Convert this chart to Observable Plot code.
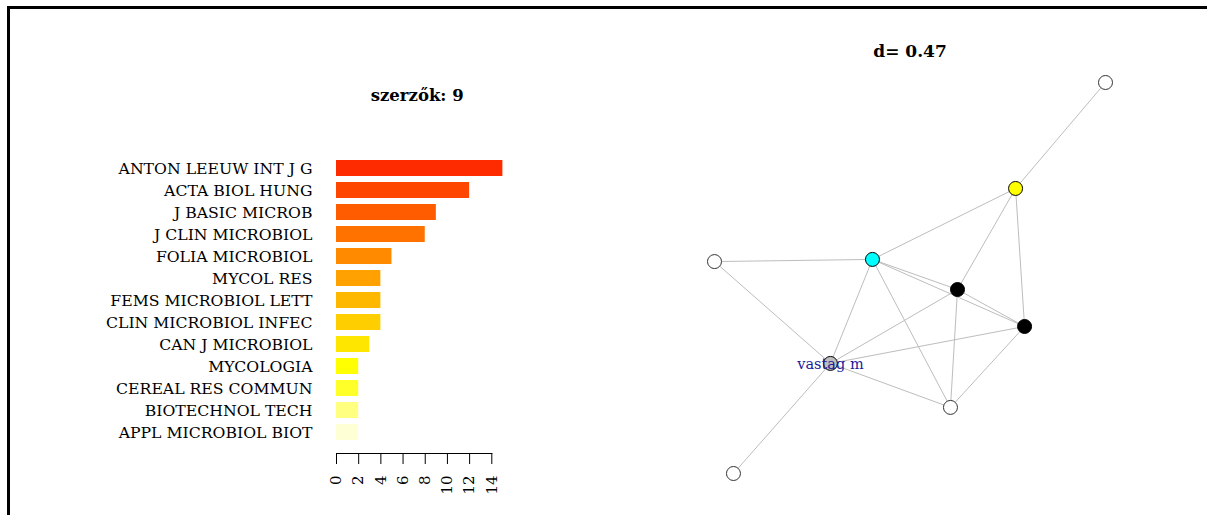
<!DOCTYPE html>
<html>
<head>
<meta charset="utf-8">
<script src="https://cdn.jsdelivr.net/npm/d3@7"></script>
<script src="https://cdn.jsdelivr.net/npm/@observablehq/plot@0.6"></script>
<style>
  html, body { margin: 0; padding: 0; background: #fff; }
  #wrap { position: relative; width: 1207px; height: 515px; overflow: hidden; background: #fff; }
  #bars { position: absolute; left: 0; top: 0; }
  #net { position: absolute; left: 600px; top: 0; }
  .bt { position: absolute; left: 7px; top: 6px; width: 1200px; height: 3px; background: #000; }
  .bl { position: absolute; left: 7px; top: 6px; width: 3px; height: 509px; background: #000; }
</style>
</head>
<body>
<div id="wrap">
  <div id="bars"></div>
  <div id="net"></div>
  <div class="bt"></div>
  <div class="bl"></div>
</div>
<script>
// ---- bar chart data ----
const journals = ["ANTON LEEUW INT J G","ACTA BIOL HUNG","J BASIC MICROB","J CLIN MICROBIOL","FOLIA MICROBIOL","MYCOL RES","FEMS MICROBIOL LETT","CLIN MICROBIOL INFEC","CAN J MICROBIOL","MYCOLOGIA","CEREAL RES COMMUN","BIOTECHNOL TECH","APPL MICROBIOL BIOT"];
const counts = [15, 12, 9, 8, 5, 4, 4, 4, 3, 2, 2, 2, 2];
const xTicks = [0, 2, 4, 6, 8, 10, 12, 14];
const barTitle = "szerzők: 9";

// ---- network data (layout coordinates) ----
const nodeX = [1.0, 0.540, -0.192, -1.0, 0.243, 0.586, -0.407, 0.207, -0.903];
const nodeY = [1.0, 0.458, 0.095, 0.084, -0.059, -0.248, -0.437, -0.662, -1.0];
const nodeLabel = ["", "", "", "", "", "", "vastag m", "", ""];
const edgeFrom = [0, 1, 1, 1, 3, 3, 2, 2, 2, 2, 4, 4, 4, 5, 5, 6, 6];
const edgeTo   = [1, 2, 4, 5, 2, 6, 6, 7, 4, 5, 5, 6, 7, 6, 7, 7, 8];
const netTitle = "d= 0.47";

// ---- styles ----
const barColors = ["#FF2B00","#FF4600","#FF5C00","#FF7200","#FF8A00","#FFA100","#FFB800","#FFCE00","#FFE600","#FFFF00","#FFFF2A","#FFFF80","#FFFFD5"];
const nodeFill = ["#FFFFFF","#FFFF00","#00FFFF","#FFFFFF","#000000","#000000","#BEBEBE","#FFFFFF","#FFFFFF"];
const serif = "'DejaVu Serif', serif";

const barData = journals.map((name, i) => ({name, value: counts[i]}));

const bars = Plot.plot({
  width: 600,
  height: 515,
  marginLeft: 336,
  marginRight: 108.7,
  marginTop: 152,
  marginBottom: 67.5,
  style: {fontFamily: serif, fontSize: "15.7px", color: "#000", background: "transparent"},
  x: {domain: [0, 14], axis: null},
  y: {domain: journals, padding: 0.26, axis: null},
  color: {type: "ordinal", domain: journals, range: barColors},
  marks: [
    Plot.barX(barData, {x: "value", y: "name", fill: "name", inset: 0}),
    Plot.axisY({tickSize: 0, tickPadding: 24, fontSize: 15.7, label: null}),
    Plot.frame({anchor: "bottom", dy: 5.5, stroke: "#000"}),
    Plot.axisX({ticks: xTicks, tickSize: 11, dy: 5.5, tickRotate: -90, tickPadding: 11, fontSize: 15, label: null, stroke: "#000"}),
    Plot.text([barTitle], {text: d => d, frameAnchor: "top", dx: 3, dy: -63, fontSize: 16.5, fontWeight: "bold"})
  ]
});
document.getElementById("bars").appendChild(bars);

const nodes = nodeX.map((x, i) => ({x, y: nodeY[i], label: nodeLabel[i], fill: nodeFill[i]}));
const edges = edgeFrom.map((a, i) => ({x1: nodeX[a], y1: nodeY[a], x2: nodeX[edgeTo[i]], y2: nodeY[edgeTo[i]]}));

const net = Plot.plot({
  width: 607,
  height: 515,
  marginLeft: 114,
  marginRight: 102,
  marginTop: 82,
  marginBottom: 42,
  style: {fontFamily: serif, fontSize: "16px", color: "#000", background: "transparent"},
  x: {domain: [-1, 1], axis: null},
  y: {domain: [-1, 1], axis: null},
  marks: [
    Plot.link(edges, {x1: "x1", y1: "y1", x2: "x2", y2: "y2", stroke: "#bdbdbd", strokeWidth: 1}),
    Plot.dot(nodes, {x: "x", y: "y", r: 7, fill: d => d.fill, stroke: d => d.fill === "#FFFFFF" ? "#333" : "#000", strokeWidth: 1}),
    Plot.text(nodes.filter(d => d.label), {x: "x", y: "y", text: "label", fill: "#1a1a9a", fontSize: 14.5, dy: 1}),
    Plot.text([netTitle], {text: d => d, frameAnchor: "top", dy: -38, fontSize: 17, fontWeight: "bold"})
  ]
});
document.getElementById("net").appendChild(net);
</script>
</body>
</html>
